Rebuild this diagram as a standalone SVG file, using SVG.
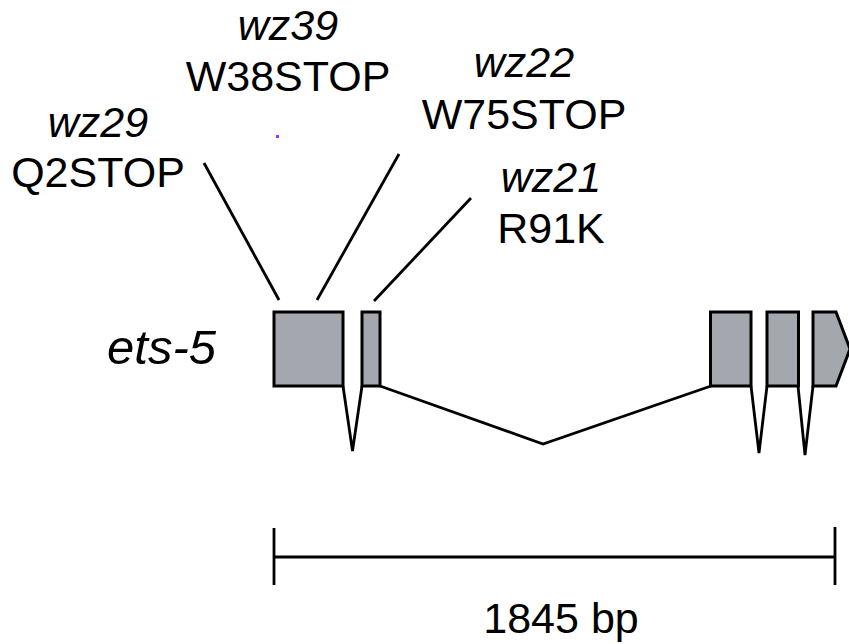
<svg xmlns="http://www.w3.org/2000/svg" width="849" height="644" viewBox="0 0 849 644">
<style>
.t{font-family:"Liberation Sans",Arial,sans-serif;font-size:43px;fill:#000;text-anchor:middle}
.i{font-style:italic}
.ex{fill:#a4a7ad;stroke:#000;stroke-width:3;stroke-linejoin:miter}
.ln{fill:none;stroke:#000;stroke-width:2.8;stroke-linejoin:miter}
</style>
<rect width="849" height="644" fill="#fff"/>
<g id="gene-label"><text class="t i" x="216" y="364" style="font-size:49px;text-anchor:end">ets-5</text></g>
<g id="connectors">
<path class="ln" d="M343,386 L352.5,451 L362,386"/>
<path class="ln" d="M380,386 L543,444 L711,386"/>
<path class="ln" d="M751,386 L759,453 L767,386"/>
<path class="ln" d="M798,386 L805,455 L813,386"/>
<path class="ln" d="M204,163 L279,300"/>
<path class="ln" d="M399,154 L317,300"/>
<path class="ln" d="M471,198 L374,301"/>
</g>
<g id="exon1"><rect class="ex" x="274" y="312" width="69" height="74"/></g>
<g id="exon2"><rect class="ex" x="362" y="312" width="18" height="74"/></g>
<g id="exon3"><rect class="ex" x="710.5" y="312" width="40.5" height="74"/></g>
<g id="exon4"><rect class="ex" x="767" y="312" width="31.5" height="74"/></g>
<g id="exon5"><path class="ex" d="M813,312 L836,312 L850,349 L836,386 L813,386 Z"/></g>
<g id="label-wz29"><text class="t i" x="98" y="137">wz29</text><text class="t" x="98" y="187">Q2STOP</text></g>
<g id="label-wz39"><text class="t i" x="288" y="40">wz39</text><text class="t" x="288" y="91">W38STOP</text></g>
<g id="label-wz22"><text class="t i" x="524" y="77">wz22</text><text class="t" x="524" y="129">W75STOP</text></g>
<g id="label-wz21"><text class="t i" x="551" y="192">wz21</text><text class="t" x="551" y="243">R91K</text></g>
<rect x="276" y="135" width="3" height="3" fill="#9b30ff"/>
<g id="scale-bar">
<path class="ln" d="M274,528 L274,585 M835,527 L835,585 M274,557 L835,557"/>
<text class="t" x="561" y="633">1845 bp</text>
</g>
</svg>
